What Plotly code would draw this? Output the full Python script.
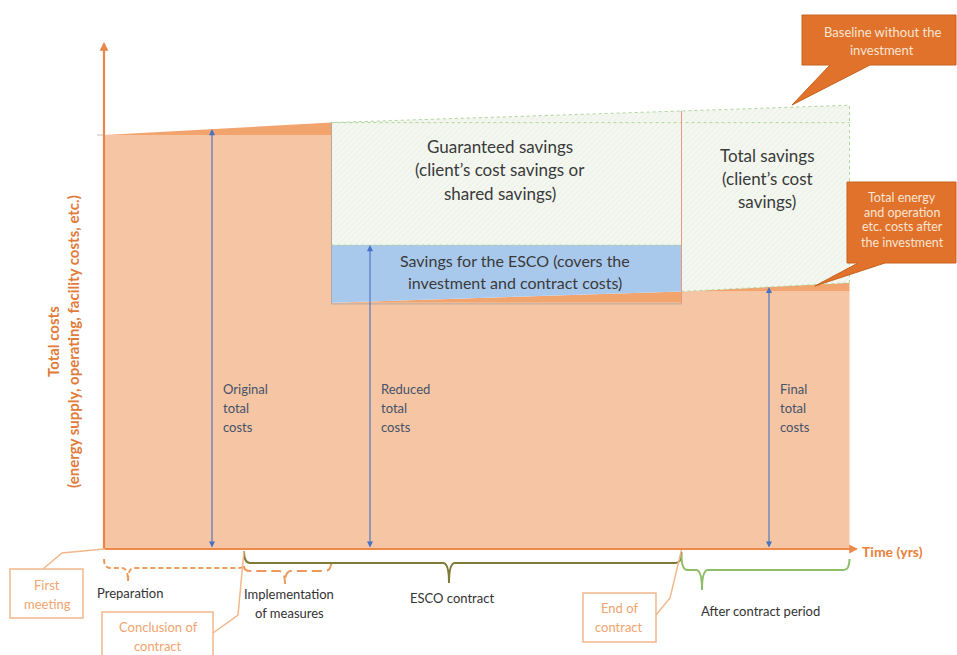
import numpy as np
import plotly.graph_objects as go

# ---------------- data (conceptual units: time in years, cost index with original = 100)
phase_labels = ["First meeting", "Conclusion of contract", "End of implementation",
                "End of contract", "Horizon"]
phase_t = [0.0, 4.0, 6.5, 16.5, 21.3]

baseline_t = [0.0, 6.5, 16.5, 21.3]
baseline_cost = [100.0, 103.0, 105.8, 107.2]     # baseline without the investment

original_cost = 100.0
guaranteed_level = 103.0
esco_savings_top = 73.4                          # reduced costs incl. ESCO savings
actual_t = [6.5, 16.5, 21.3]
actual_cost = [59.5, 62.2, 64.3]                 # costs after the investment

region_labels = {
    "guaranteed": ["Guaranteed savings", "(client\u2019s cost savings or", "shared savings)"],
    "esco": ["Savings for the ESCO (covers the", "investment and contract costs)"],
    "total": ["Total savings", "(client\u2019s cost", "savings)"],
}
arrow_labels = [["Original", "total", "costs"], ["Reduced", "total", "costs"],
                ["Final", "total", "costs"]]
brace_labels = ["Preparation", "Implementation of measures", "ESCO contract",
                "After contract period"]

# ---------------- layout geometry
W, H = 957, 655
PX_PER_YEAR, X0_PX = 35.0, 104.0
PX_PER_COST, Y0_PX = 4.14, 549.0
FONT = "Lato"


def tx(px):
    return (px - X0_PX) / PX_PER_YEAR


def cy(py):
    return (Y0_PX - py) / PX_PER_COST


def P(px, py):
    return f"{tx(px):.4f},{cy(py):.4f}"


t0, t_sign, t_impl, t_end, t_hor = phase_t
reduced_cost = actual_cost[0]
final_cost = actual_cost[1]
base_impl = np.interp(t_impl, baseline_t, baseline_cost)
base_end = np.interp(t_end, baseline_t, baseline_cost)
base_hor = np.interp(t_hor, baseline_t, baseline_cost)

fig = go.Figure()

LIGHT_OR = "#F6C5A3"
DARK_OR = "#F2A46E"

# main cost area
fig.add_trace(go.Scatter(
    x=[t0, t0, t_impl, t_impl, t_end, t_end, t_hor, t_hor],
    y=[0, original_cost, original_cost, reduced_cost, reduced_cost, final_cost, final_cost, 0],
    fill="toself", fillcolor=LIGHT_OR, line=dict(width=0), mode="lines", hoverinfo="skip"))
# baseline growth wedge before the measures
fig.add_trace(go.Scatter(
    x=[t0, t_impl, t_impl], y=[original_cost, base_impl, original_cost],
    fill="toself", fillcolor=DARK_OR, line=dict(width=0), mode="lines", hoverinfo="skip"))
# cost growth wedge after the investment
fig.add_trace(go.Scatter(
    x=[actual_t[0], actual_t[1], actual_t[2], actual_t[2], actual_t[1], actual_t[1]],
    y=[reduced_cost, actual_cost[1], actual_cost[2], final_cost, final_cost, reduced_cost],
    fill="toself", fillcolor=DARK_OR, line=dict(width=0), mode="lines", hoverinfo="skip"))
# ESCO savings
fig.add_trace(go.Scatter(
    x=[t_impl, t_end, t_end, t_impl], y=[reduced_cost, actual_cost[1], esco_savings_top, esco_savings_top],
    fill="toself", fillcolor="#A9C9EC", line=dict(width=0), mode="lines", hoverinfo="skip"))
# hatched guaranteed savings
hatch = dict(shape="/", bgcolor="#F3F7F0", fgcolor="#D6DFCF", size=4, solidity=0.18)
fig.add_trace(go.Scatter(
    x=[t_impl, t_end, t_end, t_impl], y=[esco_savings_top, esco_savings_top, base_end, base_impl],
    fill="toself", fillpattern=hatch, fillcolor="#F3F7F0",
    line=dict(width=1, color="#B3D59C", dash="dot"), mode="lines", hoverinfo="skip"))
fig.add_trace(go.Scatter(
    x=[t_end, t_hor, t_hor, t_end], y=[actual_cost[1], actual_cost[2], base_hor, base_end],
    fill="toself", fillpattern=hatch, fillcolor="#F3F7F0",
    line=dict(width=1, color="#B3D59C", dash="dot"), mode="lines", hoverinfo="skip"))
# guaranteed reference level
fig.add_trace(go.Scatter(x=[t_impl, t_hor], y=[guaranteed_level, guaranteed_level], mode="lines",
                         line=dict(width=1, color="#B3D59C", dash="dot"), hoverinfo="skip"))
# block outline
fig.add_trace(go.Scatter(x=[t_impl, t_impl, t_end], y=[base_impl, reduced_cost - 0.3, reduced_cost - 0.3],
                         mode="lines", line=dict(width=1, color="#B5A8A0"), hoverinfo="skip"))
fig.add_trace(go.Scatter(x=[t_end, t_end], y=[base_end, reduced_cost - 0.3], mode="lines",
                         line=dict(width=1, color="#E59A7F"), hoverinfo="skip"))

ann = []
shapes = []


def text_lines(lines, px, py0, dy, size, color, anchor="center", bold=False):
    for i, s in enumerate(lines):
        ann.append(dict(x=px / W, y=1 - (py0 + i * dy) / H, xref="paper", yref="paper",
                        text=f"<b>{s}</b>" if bold else s, showarrow=False,
                        xanchor=anchor, yanchor="middle",
                        font=dict(family=FONT, size=size, color=color)))


# region texts
TXT = "#3A3A3A"
text_lines(region_labels["guaranteed"], 500, 146, 23.5, 17, TXT)
text_lines(region_labels["esco"], 515, 260, 22.5, 16, TXT)
text_lines(region_labels["total"], 767, 155, 23, 17, TXT)

# blue double arrows
ARROW_BLUE = "#4472C4"
arrow_t = [tx(212), tx(370), tx(769)]
arrow_top = [np.interp(arrow_t[0], baseline_t, baseline_cost), esco_savings_top,
             np.interp(arrow_t[2], actual_t, actual_cost)]
for t, top, lab in zip(arrow_t, arrow_top, arrow_labels):
    ann.append(dict(x=t, y=top, ax=t, ay=0, xref="x", yref="y", axref="x", ayref="y",
                    text="", showarrow=True, arrowhead=2, startarrowhead=2,
                    arrowside="end+start", arrowsize=1.1, startarrowsize=1.1,
                    arrowwidth=1.1, arrowcolor=ARROW_BLUE, standoff=0, startstandoff=0))
    px = X0_PX + t * PX_PER_YEAR + 9
    text_lines(lab, px, 389, 19, 13, "#44546A", anchor="left")

# axes
AX_OR = "#EC8A4B"
ann.append(dict(x=0, y=cy(42), ax=0, ay=cy(550), xref="x", yref="y", axref="x", ayref="y",
                text="", showarrow=True, arrowhead=2, arrowsize=0.8, arrowwidth=2.2,
                arrowcolor="#E8864A", standoff=0))
ann.append(dict(x=tx(858), y=0, ax=tx(103), ay=0, xref="x", yref="y", axref="x", ayref="y",
                text="", showarrow=True, arrowhead=2, arrowsize=0.8, arrowwidth=2.2,
                arrowcolor=AX_OR, standoff=0))
shapes.append(dict(type="line", xref="x", yref="y", x0=tx(97), x1=tx(104), y0=original_cost,
                   y1=original_cost, line=dict(color="#BFBFBF", width=1)))
text_lines(["Time (yrs)"], 860, 551, 0, 14, "#E8803A", anchor="left", bold=True)
ann.append(dict(x=63 / W, y=1 - 342 / H, xref="paper", yref="paper", showarrow=False,
                text="<b>Total costs</b><br><b>(energy supply, operating, facility costs, etc.)</b>",
                textangle=-90, font=dict(family=FONT, size=15, color="#E07B39"),
                xanchor="center", yanchor="middle"))

# callouts
CALL = "#E0722B"
shapes.append(dict(type="path", xref="x", yref="y",
                   path=f"M{P(802,15)} L{P(956,15)} L{P(956,65)} L{P(870,65)} L{P(792,105)} "
                        f"L{P(830,65)} L{P(802,65)} Z",
                   fillcolor=CALL, line=dict(color="#C8621E", width=1)))
text_lines(["Baseline without the", "investment"], 882, 32, 18.5, 13, "#FBE4D2")
shapes.append(dict(type="path", xref="x", yref="y",
                   path=f"M{P(847,182)} L{P(956,182)} L{P(956,263)} L{P(885,263)} L{P(815,286)} "
                        f"L{P(858,263)} L{P(847,263)} Z",
                   fillcolor=CALL, line=dict(color="#C8621E", width=1)))
text_lines(["Total energy", "and operation", "etc. costs after", "the investment"],
           902, 197, 15, 12.5, "#FBE4D2")


# braces
def brace(x0, x1, y_end0, y_end1, y_mid, tip_x, tip_y, r=6):
    pts = [
        f"M{P(x0, y_end0)}",
        f"Q{P(x0, y_mid)} {P(x0 + r, y_mid)}",
        f"L{P(tip_x - r, y_mid)}",
        f"Q{P(tip_x, y_mid)} {P(tip_x, tip_y)}",
        f"Q{P(tip_x, y_mid)} {P(tip_x + r, y_mid)}",
        f"L{P(x1 - r, y_mid)}",
        f"Q{P(x1, y_mid)} {P(x1, y_end1)}",
    ]
    return " ".join(pts)


def tpx(t):
    return X0_PX + t * PX_PER_YEAR


DASH_OR = "#EE9A5E"
shapes.append(dict(type="path", xref="x", yref="y",
                   path=brace(tpx(t0), tpx(t_sign), 559, 566, 568, 128, 581),
                   line=dict(color=DASH_OR, width=2, dash="5px,3px")))
shapes.append(dict(type="path", xref="x", yref="y",
                   path=brace(tpx(t_sign), tpx(t_impl), 566, 559, 571, 285, 584),
                   line=dict(color=DASH_OR, width=2, dash="10px,5px")))
shapes.append(dict(type="path", xref="x", yref="y",
                   path=brace(tpx(t_sign), tpx(t_end), 551, 552, 563, 449, 583),
                   line=dict(color="#7E7B36", width=2)))
shapes.append(dict(type="path", xref="x", yref="y",
                   path=brace(tpx(t_end), tpx(t_hor), 555, 559, 570, 702, 590),
                   line=dict(color="#8DBF6B", width=2)))
BTXT = "#333333"
text_lines([brace_labels[0]], 130, 593, 0, 13, BTXT)
text_lines(["Implementation", "of measures"], 289, 594, 19, 13, BTXT)
text_lines([brace_labels[2]], 452, 598, 0, 13, BTXT)
text_lines([brace_labels[3]], 760, 611, 0, 13, BTXT)

# milestone boxes
BOX = "#F2B88C"
BOX_TXT = "#F0A46E"
for (bx0, by0, bx1, by1), lines, leader, cx, ly in [
    ((10, 569, 83, 618), ["First", "meeting"], [(43, 569), (62, 553), (tpx(t0), 549)], 47, 585),
    ((102, 612, 213, 662), ["Conclusion of", "contract"], [(213, 633), (238, 615), (tpx(t_sign), 551)], 158, 627),
    ((583, 593, 656, 642), ["End of", "contract"], [(656, 615), (670, 598), (tpx(t_end), 550)], 619, 608),
]:
    shapes.append(dict(type="rect", xref="x", yref="y", x0=tx(bx0), x1=tx(bx1), y0=cy(by1), y1=cy(by0),
                       fillcolor="white", line=dict(color=BOX, width=1.5), layer="above"))
    shapes.append(dict(type="path", xref="x", yref="y",
                       path="M" + " L".join(P(a, b) for a, b in leader),
                       line=dict(color=BOX, width=1.5)))
    text_lines(lines, cx, ly, 18.5, 13, BOX_TXT)

fig.update_layout(
    width=W, height=H, margin=dict(l=0, r=0, t=0, b=0),
    paper_bgcolor="white", plot_bgcolor="white", showlegend=False,
    xaxis=dict(visible=False, range=[tx(0), tx(W)], fixedrange=True),
    yaxis=dict(visible=False, range=[cy(H), cy(0)], fixedrange=True),
    annotations=ann, shapes=shapes,
)
fig.write_html("out.html", config={"displayModeBar": False},
               post_script="document.body.style.margin='0';document.body.style.overflow='hidden';")
